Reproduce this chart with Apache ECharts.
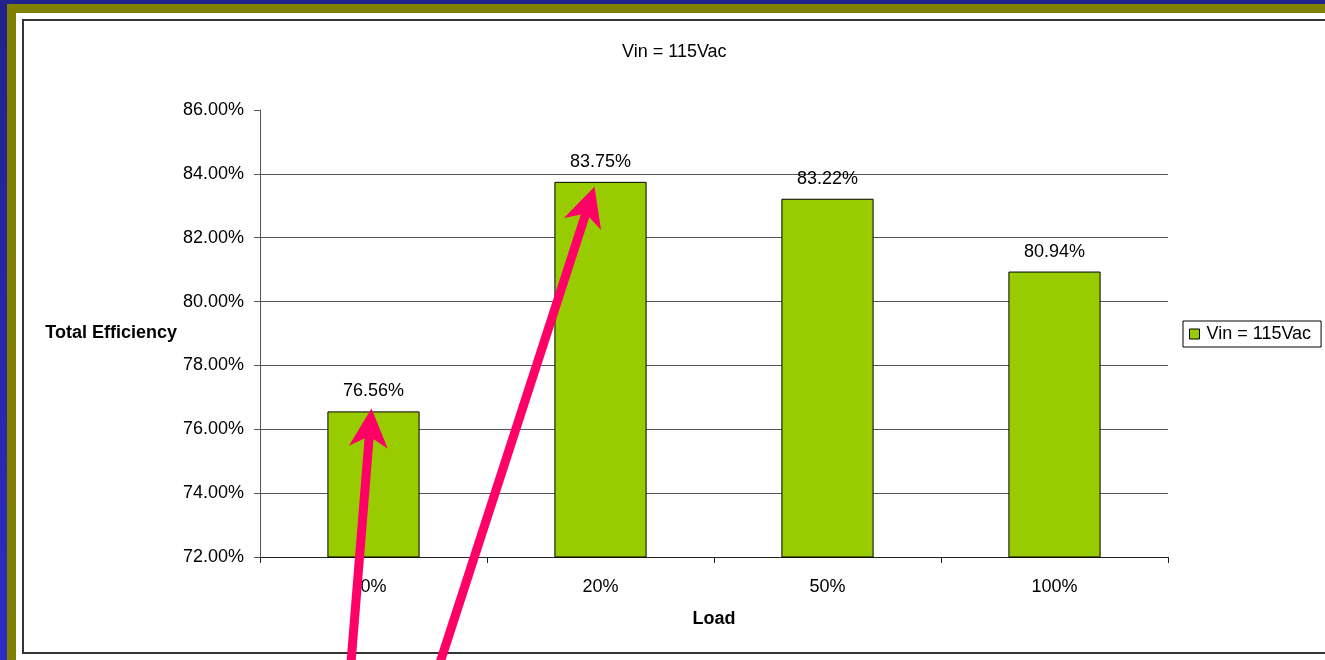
<!DOCTYPE html>
<html>
<head>
<meta charset="utf-8">
<script src="https://cdn.jsdelivr.net/npm/echarts@6/dist/echarts.min.js"></script>
<style>
  html, body { margin: 0; padding: 0; }
  body { width: 1325px; height: 660px; overflow: hidden; position: relative;
         background: linear-gradient(#22228C, #2C2CC4); }
  #olive { position: absolute; left: 7px; top: 4px; width: 1400px; height: 700px; background: #808000; }
  #white { position: absolute; left: 16px; top: 13px; width: 1400px; height: 700px; background: #ffffff; }
  #frame { position: absolute; left: 22px; top: 19px; width: 1400px; height: 635px; box-sizing: border-box;
           border: 2px solid #333333; }
  #chart { position: absolute; left: 0; top: 0; width: 1325px; height: 660px; }
</style>
</head>
<body>
<div id="olive"></div>
<div id="white"></div>
<div id="frame"></div>
<div id="chart"></div>
<script>
// ---- data ----
const titleText = 'Vin = 115Vac';
const seriesName = 'Vin = 115Vac';
const categories = ['0%', '20%', '50%', '100%'];
const efficiency = [76.56, 83.75, 83.22, 80.94];
const yMin = 72, yMax = 86, yStep = 2;
const xAxisTitle = 'Load';
const yAxisTitle = 'Total Efficiency';
// arrows point at bars (by category index)
const arrowTargets = [0, 1];

const FONT = '"Liberation Sans", Arial, sans-serif';
const chart = echarts.init(document.getElementById('chart'), null, { renderer: 'canvas' });

const option = {
  backgroundColor: 'transparent',
  animation: false,
  textStyle: { fontFamily: FONT },
  title: {
    text: titleText,
    left: 617, top: 38,
    textStyle: { fontFamily: FONT, fontSize: 18, fontWeight: 'normal', color: '#000' }
  },
  legend: {
    data: [seriesName],
    left: 1183, top: 321,
    orient: 'vertical',
    icon: 'rect',
    itemWidth: 10, itemHeight: 10, itemGap: 0,
    padding: [4, 10, 4, 6],
    borderColor: '#000', borderWidth: 1,
    backgroundColor: '#fff',
    textStyle: { fontFamily: FONT, fontSize: 18, color: '#000', padding: [0, 0, 0, 2] },
    itemStyle: { borderColor: '#000', borderWidth: 1 }
  },
  grid: { left: 260, right: 157, top: 110, bottom: 103, containLabel: false },
  xAxis: {
    type: 'category',
    data: categories,
    name: xAxisTitle,
    nameLocation: 'middle',
    nameGap: 53,
    nameTextStyle: { fontFamily: FONT, fontSize: 18, fontWeight: 'bold', color: '#000' },
    axisLine: { lineStyle: { color: '#222', width: 1 } },
    axisTick: { show: true, length: 6, lineStyle: { color: '#222' } },
    axisLabel: { margin: 21, fontFamily: FONT, fontSize: 18, color: '#000' },
    splitLine: { show: false }
  },
  yAxis: {
    type: 'value',
    min: yMin, max: yMax, interval: yStep,
    name: yAxisTitle,
    nameLocation: 'middle',
    nameRotate: 0,
    nameGap: 83,
    nameTextStyle: { fontFamily: FONT, fontSize: 18, fontWeight: 'bold', color: '#000', align: 'right' },
    axisLine: { show: true, lineStyle: { color: '#555', width: 1 } },
    axisTick: { show: true, length: 6, lineStyle: { color: '#555' } },
    axisLabel: { margin: 16, fontFamily: FONT, fontSize: 18, color: '#000',
                 formatter: v => v.toFixed(2) + '%' },
    splitLine: { show: true, showMinLine: false, showMaxLine: false, lineStyle: { color: '#555', width: 1 } }
  },
  series: [{
    name: seriesName,
    type: 'bar',
    data: efficiency,
    barWidth: '40.6%',
    itemStyle: { color: '#99CC00', borderColor: '#000', borderWidth: 1 },
    label: {
      show: true, position: 'top', distance: 11,
      fontFamily: FONT, fontSize: 18, color: '#000',
      formatter: p => p.value.toFixed(2) + '%'
    }
  }]
};
chart.setOption(option);

// ---- annotation arrows pointing at bar tops ----
function arrowGraphics(tip, start) {
  const dx = tip[0] - start[0], dy = tip[1] - start[1];
  const len = Math.sqrt(dx * dx + dy * dy);
  const ux = dx / len, uy = dy / len;
  const nx = -uy, ny = ux;
  const headLen = 39, halfW = 19.5, notch = 28;
  const back = [tip[0] - headLen * ux, tip[1] - headLen * uy];
  const left = [back[0] + halfW * nx, back[1] + halfW * ny];
  const right = [back[0] - halfW * nx, back[1] - halfW * ny];
  const notchPt = [tip[0] - notch * ux, tip[1] - notch * uy];
  return [
    { type: 'polyline', z: 100, shape: { points: [start, notchPt] },
      style: { stroke: '#FF0066', lineWidth: 9, fill: null } },
    { type: 'polygon', z: 101, shape: { points: [tip, left, notchPt, right] },
      style: { fill: '#FF0066', stroke: null } }
  ];
}
const offsets = [
  { tip: [-2, -3], start: [-24, 270] },
  { tip: [-6, 5], start: [-168, 504] }
];
let elements = [];
arrowTargets.forEach((ci, k) => {
  const p = chart.convertToPixel({ seriesIndex: 0 }, [ci, efficiency[ci]]);
  const tip = [p[0] + offsets[k].tip[0], p[1] + offsets[k].tip[1]];
  const start = [p[0] + offsets[k].start[0], p[1] + offsets[k].start[1]];
  elements = elements.concat(arrowGraphics(tip, start));
});
chart.setOption({ graphic: elements });
</script>
</body>
</html>
